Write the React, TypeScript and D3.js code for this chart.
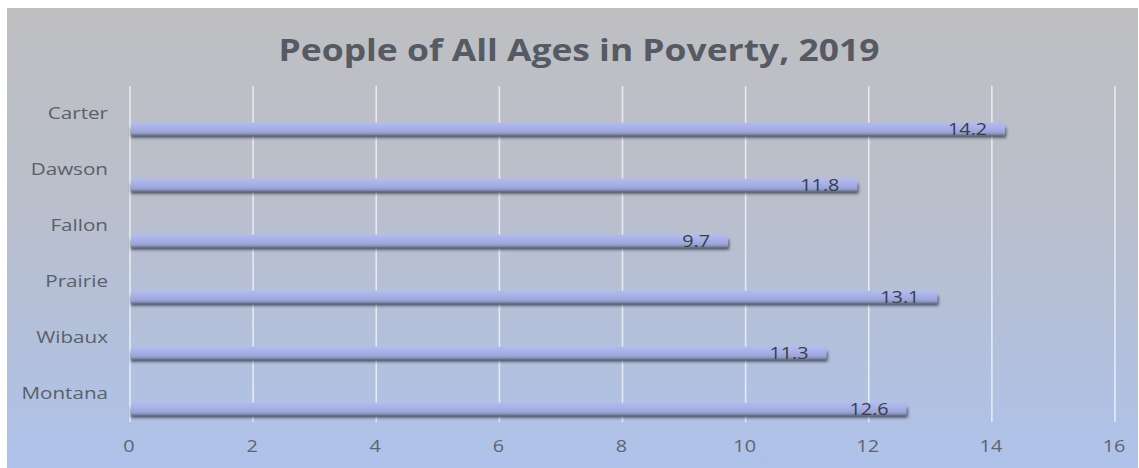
import React from "react";
import * as d3 from "d3";

const categories = ["Carter", "Dawson", "Fallon", "Prairie", "Wibaux", "Montana"];
const values = [14.2, 11.8, 9.7, 13.1, 11.3, 12.6];
const xTicks = [0, 2, 4, 6, 8, 10, 12, 14, 16];
const title = "People of All Ages in Poverty, 2019";

const W = 1139;
const H = 468;
const SX = 1.24; // horizontal stretch of the source image's text

export default function App() {
  const x = d3.scaleLinear().domain([0, 16]).range([130, 1115]);
  const y = d3.scaleBand<string>().domain(categories).range([86, 422]);
  const bw = y.bandwidth();
  const font = "'Open Sans', 'DejaVu Sans', sans-serif";

  return (
    <svg
      width={W}
      height={H}
      style={{ position: "absolute", left: 0, top: 0, display: "block" }}
    >
      <defs>
        <linearGradient id="bg" x1="0" y1="0" x2="0" y2="1">
          <stop offset="0%" stopColor="#bfbfc1" />
          <stop offset="45%" stopColor="#b9bfcd" />
          <stop offset="100%" stopColor="#aec2ea" />
        </linearGradient>
        <linearGradient id="bar" x1="0" y1="0" x2="0" y2="1">
          <stop offset="0%" stopColor="#b3bbee" />
          <stop offset="40%" stopColor="#a8b1e6" />
          <stop offset="75%" stopColor="#9aa3d6" />
          <stop offset="100%" stopColor="#6e7696" />
        </linearGradient>
        <filter id="blur" x="-5%" y="-100%" width="110%" height="300%">
          <feGaussianBlur stdDeviation="1.4" />
        </filter>
      </defs>
      <rect x={0} y={0} width={W} height={H} fill="#ffffff" />
      <rect x={7} y={8} width={1131} height={H - 8} fill="url(#bg)" />

      <g transform={`translate(${(274 + 884) / 2},61) scale(1.2,1)`}>
        <text
          textAnchor="middle"
          fontFamily={font}
          fontWeight={700}
          fontSize={29.5}
          fill="#555a63"
        >
          {title}
        </text>
      </g>

      {xTicks.map((t) => (
        <line
          key={"g" + t}
          x1={x(t)}
          x2={x(t)}
          y1={86}
          y2={422}
          stroke="#eef1f7"
          strokeOpacity={0.85}
          strokeWidth={1.6}
        />
      ))}

      {categories.map((c, i) => {
        const by = (y(c) as number) + bw * 0.655;
        const bh = 13;
        const x0 = x(0);
        const x1 = x(values[i]);
        return (
          <g key={c}>
            <rect
              x={x0 + 1}
              y={by + 5}
              width={x1 - x0 + 1}
              height={bh - 3}
              fill="#343a4c"
              opacity={0.85}
              filter="url(#blur)"
            />
            <rect x={x0 + 1} y={by} width={x1 - x0} height={bh} fill="url(#bar)" />
            <g transform={`translate(${x1 - 17},${by + 12}) scale(${SX},1)`}>
              <text
                textAnchor="end"
                fontFamily={font}
                fontSize={16}
                fill="#383d47"
              >
                {values[i].toFixed(1)}
              </text>
            </g>
          </g>
        );
      })}

      {categories.map((c) => (
        <g
          key={"l" + c}
          transform={`translate(108,${(y(c) as number) + bw / 2 + 5}) scale(1.29,1)`}
        >
          <text textAnchor="end" fontFamily={font} fontSize={16} fill="#5a5f68">
            {c}
          </text>
        </g>
      ))}

      {xTicks.map((t) => (
        <g key={"t" + t} transform={`translate(${x(t) - 1},452) scale(${SX},1)`}>
          <text textAnchor="middle" fontFamily={font} fontSize={16} fill="#5f6470">
            {t}
          </text>
        </g>
      ))}
    </svg>
  );
}
